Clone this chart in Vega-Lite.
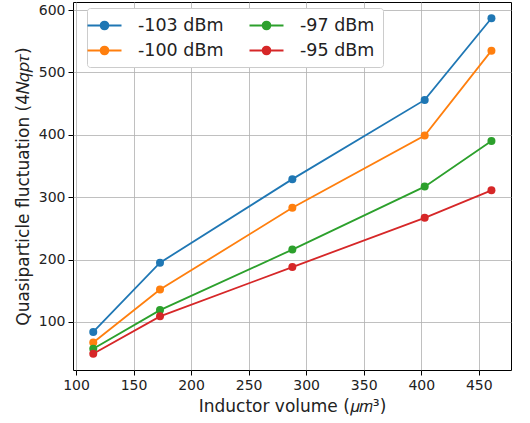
{
  "$schema": "https://vega.github.io/schema/vega-lite/v6.json",
  "width": 438,
  "height": 368,
  "autosize": {"type": "none"},
  "padding": {"left": 73, "top": 2, "right": 19, "bottom": 53},
  "background": "white",
  "config": {
    "font": "DejaVu Sans",
    "view": {"stroke": "black", "strokeWidth": 1},
    "axis": {
      "labelFont": "DejaVu Sans",
      "titleFont": "DejaVu Sans",
      "labelFontSize": 14,
      "titleFontSize": 17,
      "titleFontWeight": "normal",
      "labelColor": "#222",
      "titleColor": "#222",
      "tickColor": "black",
      "tickSize": 5,
      "domain": false,
      "gridColor": "#b0b0b0",
      "gridOpacity": 0.8,
      "gridWidth": 1
    }
  },
  "data": {
    "values": [
      {"v": 115, "q": 84, "s": "-103 dBm"},
      {"v": 173, "q": 195, "s": "-103 dBm"},
      {"v": 288, "q": 329, "s": "-103 dBm"},
      {"v": 403, "q": 456, "s": "-103 dBm"},
      {"v": 461, "q": 587, "s": "-103 dBm"},
      {"v": 115, "q": 67, "s": "-100 dBm"},
      {"v": 173, "q": 152, "s": "-100 dBm"},
      {"v": 288, "q": 283, "s": "-100 dBm"},
      {"v": 403, "q": 399, "s": "-100 dBm"},
      {"v": 461, "q": 535, "s": "-100 dBm"},
      {"v": 115, "q": 57, "s": "-97 dBm"},
      {"v": 173, "q": 119, "s": "-97 dBm"},
      {"v": 288, "q": 216, "s": "-97 dBm"},
      {"v": 403, "q": 317, "s": "-97 dBm"},
      {"v": 461, "q": 390, "s": "-97 dBm"},
      {"v": 115, "q": 49, "s": "-95 dBm"},
      {"v": 173, "q": 109, "s": "-95 dBm"},
      {"v": 288, "q": 188, "s": "-95 dBm"},
      {"v": 403, "q": 267, "s": "-95 dBm"},
      {"v": 461, "q": 311, "s": "-95 dBm"}
    ]
  },
  "encoding": {
    "x": {
      "field": "v", "type": "quantitative",
      "scale": {"domain": [97.4, 478], "nice": false, "zero": false},
      "axis": {"values": [100, 150, 200, 250, 300, 350, 400, 450], "title": "Inductor volume (𝜇𝑚³)", "titlePadding": 6, "labelPadding": 3}
    },
    "y": {
      "field": "q", "type": "quantitative",
      "scale": {"domain": [23, 613], "nice": false, "zero": false},
      "axis": {"values": [100, 200, 300, 400, 500, 600], "title": "Quasiparticle fluctuation (4𝑁𝑞𝑝𝜏)", "titlePadding": 6, "labelPadding": 3}
    },
    "color": {
      "field": "s", "type": "nominal",
      "scale": {
        "domain": ["-103 dBm", "-100 dBm", "-97 dBm", "-95 dBm"],
        "range": ["#1f77b4", "#ff7f0e", "#2ca02c", "#d62728"]
      },
      "legend": {
        "title": null,
        "orient": "none",
        "legendX": 14,
        "legendY": 6,
        "columns": 2,
        "columnPadding": 21,
        "rowPadding": 7,
        "padding": 8,
        "fillColor": "white",
        "strokeColor": "#cccccc",
        "cornerRadius": 3,
        "labelFont": "DejaVu Sans",
        "labelFontSize": 17.5,
        "labelColor": "#222",
        "labelOffset": 24,
        "symbolType": "M-2,0L-0.45,0M0.45,0L2,0M0.45,0A0.45,0.45 0 1 1 -0.45,0A0.45,0.45 0 1 1 0.45,0Z",
        "symbolSize": 289,
        "symbolStrokeWidth": 2,
        "symbolOpacity": 1,
        "offset": 0
      }
    }
  },
  "layer": [
    {"mark": {"type": "line", "strokeWidth": 1.8}},
    {"mark": {"type": "point", "filled": true, "opacity": 1, "size": 64}}
  ]
}
